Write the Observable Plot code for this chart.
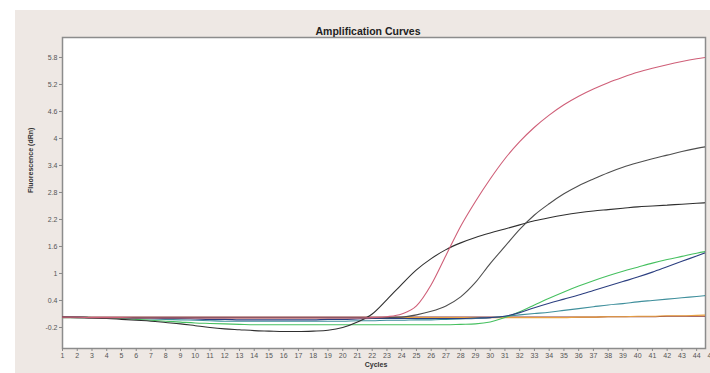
<!DOCTYPE html>
<html><head><meta charset="utf-8">
<script src="https://cdn.jsdelivr.net/npm/d3@7"></script>
<script src="https://cdn.jsdelivr.net/npm/@observablehq/plot@0.6"></script>
<style>
html,body{margin:0;padding:0;background:#fff;}
#wrap{position:relative;width:710px;height:373px;overflow:hidden;}
#panel{position:absolute;left:15px;top:10px;right:0;bottom:0;background:#eee8e4;}
#chart{position:absolute;left:0;top:0;}
</style></head><body>
<div id="wrap"><div id="panel"></div><div id="chart"></div></div>
<script>
const cycles = [1,2,3,4,5,6,7,8,9,10,11,12,13,14,15,16,17,18,19,20,21,22,23,24,25,26,27,28,29,30,31,32,33,34,35,36,37,38,39,40,41,42,43,44,45];
const xTicks = cycles;
const yTicks = [-0.2,0.4,1,1.6,2.2,2.8,3.4,4,4.6,5.2,5.8];

const sampleH = [0.03,0.03,0.03,0.03,0.03,0.03,0.03,0.03,0.03,0.03,
  0.03,0.03,0.03,0.03,0.03,0.03,0.03,0.03,0.03,0.03,
  0.03,0.03,0.03,0.03,0.03,0.03,0.03,0.03,0.03,0.03,
  0.03,0.03,0.03,0.03,0.03,0.03,0.03,0.04,0.04,0.04,
  0.04,0.05,0.05,0.05,0.05];
const sampleG = [0.02,0.02,0.02,0.02,0.02,0.02,0.02,0.02,0.02,0.02,
  0.02,0.02,0.02,0.02,0.02,0.02,0.02,0.02,0.02,0.02,
  0.02,0.02,0.02,0.02,0.02,0.02,0.02,0.02,0.02,0.02,
  0.02,0.02,0.02,0.02,0.02,0.03,0.03,0.04,0.04,0.05,
  0.05,0.06,0.06,0.07,0.08];
const sampleF = [0.02,0.02,0.02,0.01,0.01,0.0,-0.01,-0.02,-0.03,-0.04,
  -0.05,-0.06,-0.06,-0.06,-0.06,-0.06,-0.06,-0.06,-0.06,-0.06,
  -0.05,-0.05,-0.04,-0.04,-0.03,-0.03,-0.02,-0.01,0.0,0.02,
  0.05,0.08,0.11,0.14,0.18,0.22,0.26,0.30,0.33,0.37,
  0.40,0.43,0.46,0.49,0.52];
const sampleE = [0.03,0.03,0.02,0.01,0.0,-0.02,-0.04,-0.06,-0.08,-0.10,
  -0.11,-0.12,-0.13,-0.14,-0.14,-0.14,-0.14,-0.14,-0.14,-0.14,
  -0.14,-0.14,-0.14,-0.14,-0.14,-0.14,-0.14,-0.13,-0.12,-0.08,
  0.02,0.15,0.30,0.45,0.59,0.72,0.84,0.95,1.05,1.14,
  1.23,1.31,1.38,1.45,1.51];
const sampleD = [0.03,0.03,0.02,0.02,0.02,0.01,0.01,0.0,0.0,-0.01,
  -0.02,-0.02,-0.03,-0.03,-0.03,-0.03,-0.03,-0.03,-0.02,-0.02,
  -0.01,0.0,0.0,0.0,0.0,0.0,0.0,0.0,0.01,0.02,
  0.05,0.13,0.24,0.34,0.43,0.52,0.62,0.72,0.82,0.92,
  1.03,1.15,1.27,1.39,1.51];
const sampleC = [0.03,0.02,0.01,0.0,-0.02,-0.04,-0.06,-0.09,-0.12,-0.16,
  -0.20,-0.23,-0.25,-0.27,-0.28,-0.29,-0.29,-0.28,-0.26,-0.20,
  -0.08,0.10,0.42,0.76,1.08,1.33,1.53,1.68,1.80,1.90,
  1.99,2.08,2.17,2.24,2.30,2.35,2.39,2.42,2.45,2.48,
  2.50,2.52,2.54,2.56,2.58];
const sampleB = [0.03,0.03,0.02,0.02,0.02,0.02,0.02,0.02,0.02,0.02,
  0.02,0.02,0.02,0.02,0.02,0.02,0.02,0.02,0.02,0.02,
  0.02,0.02,0.02,0.03,0.08,0.16,0.28,0.48,0.80,1.22,
  1.60,1.98,2.30,2.55,2.77,2.95,3.10,3.24,3.36,3.46,
  3.55,3.63,3.71,3.78,3.84];
const sampleA = [0.03,0.03,0.02,0.02,0.02,0.01,0.01,0.01,0.01,0.01,
  0.01,0.01,0.01,0.01,0.01,0.01,0.01,0.01,0.01,0.01,
  0.01,0.02,0.04,0.10,0.28,0.75,1.40,2.05,2.60,3.10,
  3.55,3.93,4.25,4.52,4.75,4.94,5.10,5.24,5.36,5.47,
  5.56,5.64,5.71,5.77,5.82];

const seriesNames = ["Sample H","Sample G","Sample F","Sample E","Sample D","Sample C","Sample B","Sample A"];
const seriesValues = [sampleH, sampleG, sampleF, sampleE, sampleD, sampleC, sampleB, sampleA];
const seriesColors = ["#8a3a3a","#e8a040","#3f8f9c","#46c060","#2c3f80","#2f2f2f","#4e4e4e","#cf5f78"];

const rows = seriesNames.flatMap((name, k) => seriesValues[k].map((v, i) => ({cycle: cycles[i], value: v, series: name})));

const chart = Plot.plot({
  width: 710, height: 373,
  marginLeft: 62, marginRight: 5, marginTop: 37, marginBottom: 25,
  style: {background: "transparent", fontFamily: "Liberation Sans, DejaVu Sans, sans-serif", fontSize: "7px", color: "#555"},
  x: {domain: [1, 44.6]},
  y: {domain: [-0.667, 6.244]},
  color: {domain: seriesNames, range: seriesColors},
  marks: [
    Plot.frame({fill: "white", stroke: "#8c8c8c", strokeWidth: 1.5}),
    Plot.axisY(yTicks, {tickSize: 3, tickPadding: 2, tickFormat: d => String(d), label: null, stroke: "#888"}),
    Plot.axisX(xTicks, {tickSize: 3, tickPadding: 2, tickFormat: d => String(d), label: null, stroke: "#888"}),
    Plot.line(rows, {x: "cycle", y: "value", z: "series", stroke: "series", strokeWidth: 1.1, curve: "monotone-x", clip: true}),
    Plot.text(["Amplification Curves"], {frameAnchor: "top", dy: -10, dx: -16, fontWeight: "bold", fontSize: 10.5, fill: "#222"}),
    Plot.text(["Cycles"], {frameAnchor: "bottom", dy: 18, dx: -8, fontWeight: "bold", fontSize: 7, fill: "#333"}),
    Plot.text(["Fluorescence (dRn)"], {frameAnchor: "left", rotate: -90, dx: -32, fontWeight: "bold", fontSize: 7, fill: "#333"})
  ]
});
document.getElementById("chart").appendChild(chart);
</script>
</body></html>
